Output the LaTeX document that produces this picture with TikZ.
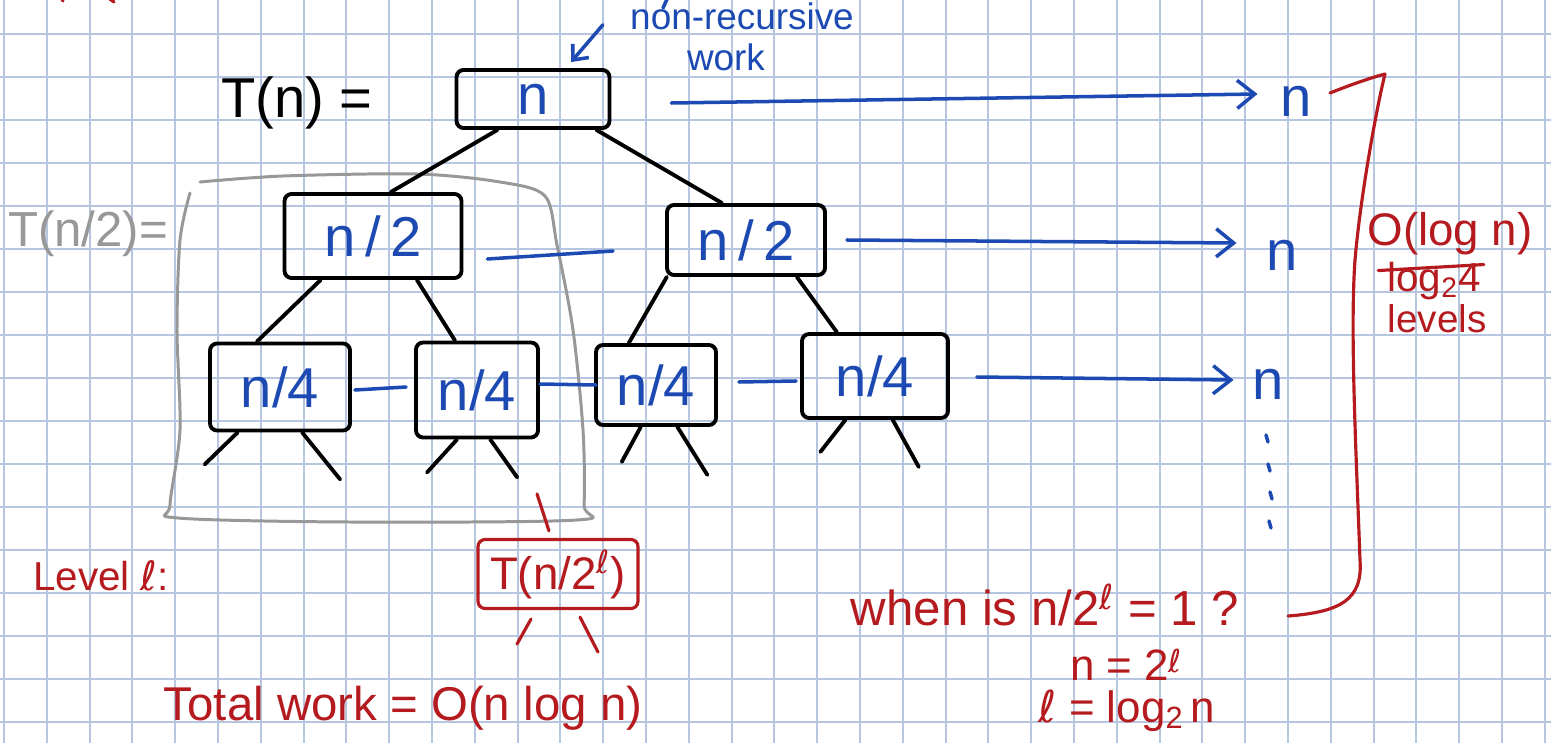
\documentclass[tikz,border=0pt]{standalone}
\usepackage{fontspec}
\setmainfont{Liberation Sans}
\newfontfamily\dvs{DejaVu Sans}
\usepackage{tikz}
\usetikzlibrary{arrows.meta}
\definecolor{gridblue}{RGB}{182,198,224}
\definecolor{inkblue}{RGB}{28,74,178}
\definecolor{inkred}{RGB}{180,26,30}
\definecolor{inkgray}{RGB}{152,152,152}
\newcommand{\fs}[1]{\fontsize{#1}{#1}\selectfont}
\newcommand{\lv}{{\dvs ℓ}}

\begin{document}
\begin{tikzpicture}[x=0.02cm, y=-0.02cm, line cap=round, line join=round,
    ink/.style={draw=black, line width=2.2pt},
    bl/.style={draw=inkblue, line width=2pt},
    rd/.style={draw=inkred, line width=1.8pt},
    gr/.style={draw=inkgray, line width=1.7pt},
    arr/.style={bl, -{Straight Barb[length=10pt,width=16pt]}},
    box/.style={ink, rounded corners=4pt, inner sep=0pt, text=inkblue, font=\fs{32}},
    lbl/.style={inner sep=0pt, anchor=base}]
    \useasboundingbox (0,0) rectangle (1551,743);
    \fill[white] (0,0) rectangle (1551,743);
    \foreach \i in {0,...,36} \draw[gridblue, line width=1.1pt] ({4+42.8*\i},0) -- ({4+42.8*\i},743);
    \foreach \j in {0,...,16} \draw[gridblue, line width=1.1pt] (0,{34+43*\j}) -- (1551,{34+43*\j});

    \draw[bl] (668,-3) -- (663,8);
    \draw[rd] (61,-3) -- (63,1);
    \draw[rd] (107,-3) -- (114,2);

    \draw[gr] plot[smooth, tension=0.5] coordinates {(190,193) (180,240) (177,330) (180,430) (170,505) (178,518) (350,522) (577,520) (584,505) (583,430) (573,330) (557,245) (545,196) (500,182) (417,174) (283,176) (200,182)};
    \node[lbl, text=inkgray, font=\fs{28}] (tsub) at (88,246) {T(n/2)=};

    \node[lbl, font=\fs{32}] (tn) at (297,118) {T(n) =};
    \node[lbl, text=inkblue, font=\fs{21}] (nr) at (742,30) {non-recursive};
    \node[lbl, text=inkblue, font=\fs{21}] (wk) at (726,71) {work};

    \node[box, minimum width=3.06cm, minimum height=1.16cm] (top) at (533,99) {n};
    \node[box, minimum width=3.54cm, minimum height=1.68cm] (lva) at (373,236) {n\,/\,2};
    \node[box, minimum width=3.16cm, minimum height=1.4cm] (lvb) at (746,240) {n\,/\,2};
    \node[box, minimum width=2.8cm, minimum height=1.74cm] (qa) at (280,387) {n/4};
    \node[box, minimum width=2.44cm, minimum height=1.9cm] (qb) at (477,390) {n/4};
    \node[box, minimum width=2.4cm, minimum height=1.6cm] (qc) at (656,385) {n/4};
    \node[box, minimum width=2.92cm, minimum height=1.68cm] (qd) at (875,376) {n/4};

    \draw[bl, -{Straight Barb[length=7pt,width=12pt]}] ([shift={(-27,8)}]nr.west) -- ([shift={(38,-6)}]top.north);

    \draw[ink] (top.221) -- (lva.68);
    \draw[ink] (top.334.5) -- (lvb.123.3);
    \draw[ink] (lva.220) -- (qa.117.6);
    \draw[ink] (lva.315.6) -- (qb.114);
    \draw[ink] (lvb.205.6) -- (qc.123);
    \draw[ink] (lvb.324.5) -- (qd.131.4);
    \foreach \nd/\a/\dx/\dy in {qa/227.4/-33/32, qa/296.8/38/47, qb/248.2/-30/33, qb/285.3/27/38,
        qc/250.7/-19/35, qc/297.7/30/48, qd/236.3/-25/32, qd/292/26/47}
        \draw[ink] (\nd.\a) -- ++(\dx,\dy);

    \draw[bl] ([shift={(24,23)}]lva.east) -- ([shift={(-52,11)}]lvb.west);
    \draw[bl] ([shift={(3,3)}]qa.east) -- ([shift={(-8,-3)}]qb.west);
    \draw[bl] ([shift={(0,-6)}]qb.east) -- ([shift={(2,0)}]qc.west);
    \draw[bl] ([shift={(21,-3)}]qc.east) -- ([shift={(-4,5)}]qd.west);

    \node[inner sep=2pt, text=inkblue, font=\fs{32}] (na) at (1296,101) {n};
    \node[inner sep=2pt, text=inkblue, font=\fs{32}] (nb) at (1282,255) {n};
    \node[inner sep=2pt, text=inkblue, font=\fs{32}] (nc) at (1268,384) {n};
    \draw[arr] ([shift={(60,4)}]top.east) -- ([shift={(-19,-7)}]na.west);
    \draw[arr] ([shift={(20,0)}]lvb.east) -- ([shift={(-26,-12)}]nb.west);
    \draw[arr] ([shift={(27,1)}]qd.east) -- ([shift={(-15,-4)}]nc.west);
    \foreach \y/\dx in {435/0,464/2,492/4,521/3}
        \draw[bl] (1266+\dx,\y) -- ++(2,7);

    \draw[rd] (1330,93) .. controls (1350,85) and (1370,78) .. (1385,74)
        .. controls (1376,110) and (1360,200) .. (1355,260)
        .. controls (1350,330) and (1356,450) .. (1360,560)
        .. controls (1363,600) and (1340,612) .. (1288,616);
    \node[lbl, text=inkred, font=\fs{26}] (olog) at (1450,245) {O(log n)};
    \node[lbl, text=inkred, font=\fs{23}] (lg) at (1434,291) {log\textsubscript{2}4};
    \draw[rd] ([shift={(-9,-10)}]lg.west) -- ([shift={(3,-16)}]lg.east);
    \node[lbl, text=inkred, font=\fs{22}] (lev) at (1437,332) {levels};

    \node[box, draw=inkred, line width=1.8pt, text=inkred, font=\fs{26}, minimum width=3.2cm, minimum height=1.38cm] (lvl) at (558,574) {T(n/2\textsuperscript{\lv})};
    \draw[rd] ([shift={(-21,-44)}]lvl.north) -- ([shift={(-9,-7)}]lvl.north);
    \draw[rd] ([shift={(-27,9)}]lvl.south) -- ++(-14,25);
    \draw[rd] ([shift={(22,7)}]lvl.south) -- ++(18,35);
    \node[lbl, text=inkred, font=\fs{23}] (lvtxt) at (101,590) {Level \lv:};
    \node[lbl, text=inkred, font=\fs{27}] (tot) at (403,720) {Total work = O(n log n)};

    \node[lbl, text=inkred, font=\fs{28}] (wh) at (1045,625) {when is n/2\textsuperscript{\lv} = 1 ?};
    \node[lbl, text=inkred, font=\fs{25}] (eqa) at (1126,680) {n = 2\raisebox{4pt}{\fs{18}\lv}};
    \node[lbl, text=inkred, font=\fs{25}] (eqb) at (1127,722) {\lv{} = log\textsubscript{2}\,n};
\end{tikzpicture}
\end{document}
